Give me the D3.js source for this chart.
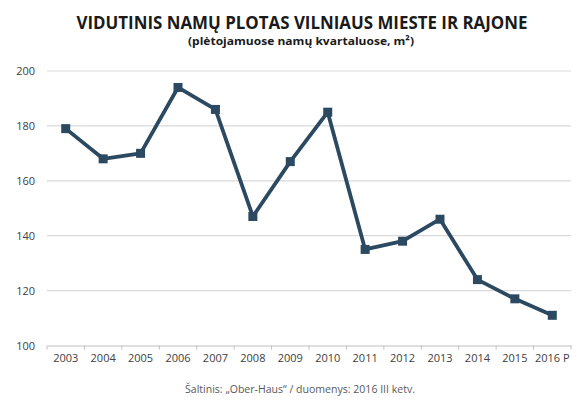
<!DOCTYPE html>
<html><head><meta charset="utf-8">
<script src="https://cdn.jsdelivr.net/npm/d3@7/dist/d3.min.js"></script>
<style>body{margin:0;background:#fff}</style>
</head><body>
<script>
const categories = ["2003","2004","2005","2006","2007","2008","2009","2010","2011","2012","2013","2014","2015","2016 P"];
const values = [179,168,170,194,186,147,167,185,135,138,146,124,117,111];
const yTicks = [100,120,140,160,180,200];

const W=584,H=415;
const svg=d3.select("body").append("svg").attr("width",W).attr("height",H);
const mLeft=47,mRight=571,mTop=71,mBottom=345.5;
const x=d3.scaleBand().domain(categories).range([mLeft,mRight]);
const y=d3.scaleLinear().domain([100,200]).range([mBottom,mTop]);
const font="'Open Sans', 'Noto Sans', sans-serif";

// gridlines
svg.append("g").selectAll("line").data(yTicks.filter(d=>d>100)).join("line")
 .attr("x1",mLeft).attr("x2",mRight).attr("y1",d=>y(d)).attr("y2",d=>y(d))
 .attr("stroke","#d9d9d9").attr("stroke-width",1.2);

// y axis labels
const ya=svg.append("g").attr("transform",`translate(${mLeft},0)`)
 .call(d3.axisLeft(y).tickValues(yTicks).tickSize(0).tickPadding(12));
ya.select(".domain").remove();
ya.selectAll("text").attr("font-family",font).attr("font-size",11).attr("fill","#404040");

// x axis
const xa=svg.append("g").attr("transform",`translate(0,${mBottom})`)
 .call(d3.axisBottom(x).tickSize(0).tickPadding(9));
xa.select(".domain").attr("stroke","#bfbfbf");
xa.selectAll("text").attr("font-family",font).attr("font-size",11).attr("fill","#404040");
// boundary ticks
const bounds=categories.map(c=>x(c)).concat([mRight]);
xa.selectAll(".bt").data(bounds).join("line").attr("class","bt")
 .attr("x1",d=>d).attr("x2",d=>d).attr("y1",0).attr("y2",4).attr("stroke","#bfbfbf");

// line
const color="#2b4a62";
const line=d3.line().x((d,i)=>x(categories[i])+x.bandwidth()/2).y(d=>y(d));
svg.append("path").datum(values).attr("d",line).attr("fill","none")
 .attr("stroke",color).attr("stroke-width",3.8).attr("stroke-linejoin","round");
svg.append("g").selectAll("rect").data(values).join("rect")
 .attr("x",(d,i)=>x(categories[i])+x.bandwidth()/2-4.5).attr("y",d=>y(d)-4.5)
 .attr("width",9).attr("height",9).attr("fill",color);

// titles
svg.append("text").attr("x",302).attr("y",29).attr("text-anchor","middle")
 .attr("font-family",font).attr("font-weight",700).attr("font-size",17.5).attr("fill","#1a1a1a")
 .attr("textLength",451).attr("lengthAdjust","spacingAndGlyphs")
 .text("VIDUTINIS NAMŲ PLOTAS VILNIAUS MIESTE IR RAJONE");
svg.append("text").attr("x",301).attr("y",45).attr("text-anchor","middle")
 .attr("font-family",font).attr("font-weight",700).attr("font-size",11).attr("fill","#1a1a1a")
 .attr("textLength",226).attr("lengthAdjust","spacingAndGlyphs")
 .text("(plėtojamuose namų kvartaluose, m²)");

svg.append("text").attr("x",300).attr("y",393).attr("text-anchor","middle")
 .attr("font-family",font).attr("font-size",11).attr("fill","#595959")
 .attr("textLength",230).attr("lengthAdjust","spacingAndGlyphs")
 .text("Šaltinis: „Ober-Haus“ / duomenys: 2016 III ketv.");
</script>
</body></html>
